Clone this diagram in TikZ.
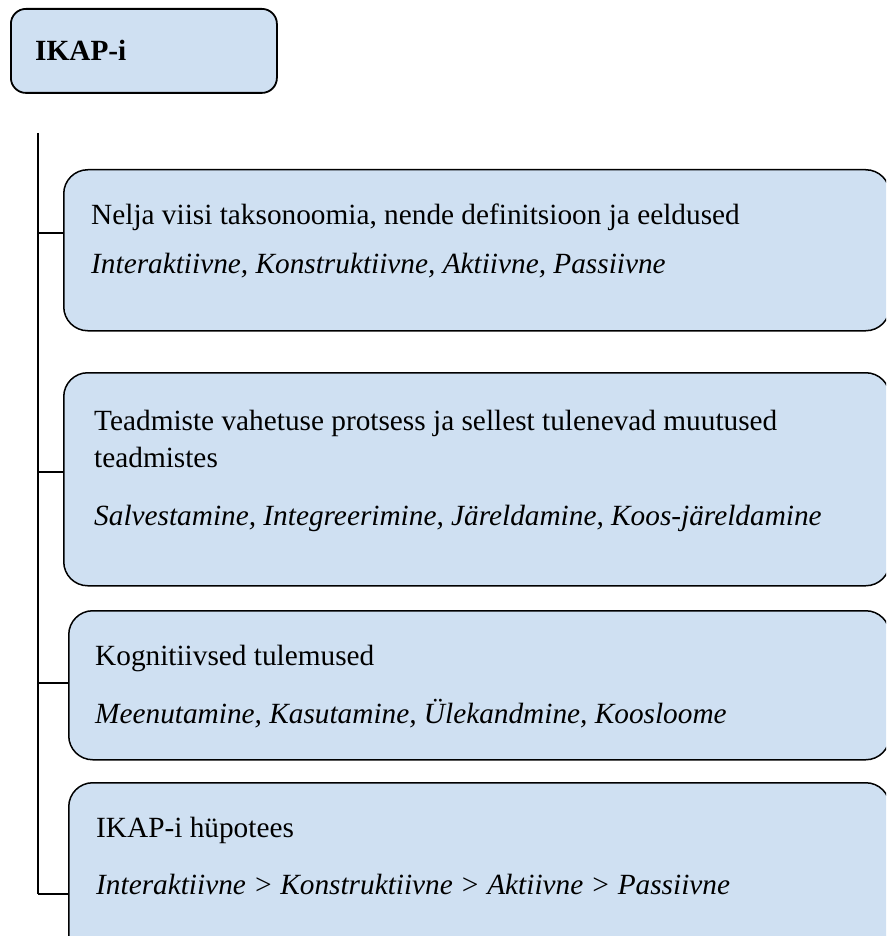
\documentclass[tikz,border=0pt]{standalone}
\usepackage{fontspec}
\setmainfont{Liberation Serif}
\definecolor{boxfill}{RGB}{207,224,242}
\begin{document}
\begin{tikzpicture}[x=1pt,y=-1pt,
  box/.style={draw=black, line width=1.5pt, fill=boxfill, rounded corners=24pt, inner sep=0pt, anchor=north west},
  txt/.style={anchor=base west, inner sep=0pt, font=\fontsize{29.3}{37}\selectfont},
  itxt/.style={txt, font=\fontsize{29.3}{37}\selectfont\itshape},
  conn/.style={line width=1.4pt}]
\useasboundingbox (0,0) rectangle (886,936);
\clip (0,0) rectangle (886,936);
% top box
\node[box, rounded corners=15pt, line width=1.8pt, minimum width=266pt, minimum height=84pt] (top) at (10,8) {};
\node[txt, font=\fontsize{29.3}{37}\selectfont\bfseries] (toptxt) at (35,61) {IKAP-i};
% boxes
\node[box, minimum width=826pt, minimum height=161pt] (b1) at (63,169) {};
\node[box, minimum width=826pt, minimum height=213pt] (b2) at (63,372) {};
\node[box, minimum width=821pt, minimum height=149pt] (b3) at (68,610) {};
\node[box, minimum width=821pt, minimum height=180pt] (b4) at (68,782) {};
% texts
\node[txt] (t1a) at (91,224) {Nelja viisi taksonoomia, nende definitsioon ja eeldused};
\node[itxt] (t1b) at (91,273) {Interaktiivne, Konstruktiivne, Aktiivne, Passiivne};
\node[txt] (t2a) at (94,430) {Teadmiste vahetuse protsess ja sellest tulenevad muutused};
\node[txt] (t2b) at (94,467) {teadmistes};
\node[itxt] (t2c) at (94,525) {Salvestamine, Integreerimine, Järeldamine, Koos-järeldamine};
\node[txt] (t3a) at (95,665) {Kognitiivsed tulemused};
\node[itxt] (t3b) at (95,723) {Meenutamine, Kasutamine, Ülekandmine, Koosloome};
\node[txt] (t4a) at (96,837) {IKAP-i hüpotees};
\node[itxt] (t4b) at (96,894) {Interaktiivne > Konstruktiivne > Aktiivne > Passiivne};
% spine
\coordinate (s0) at (38,133);
\coordinate (s1) at (38,233);
\coordinate (s2) at (38,472);
\coordinate (s3) at (38,683);
\coordinate (s4) at (38,894);
\draw[conn] (s0) -- (s4);
\draw[conn] (s1) -- (s1 -| b1.west);
\draw[conn] (s2) -- (s2 -| b2.west);
\draw[conn] (s3) -- (s3 -| b3.west);
\draw[conn] (s4) -- (s4 -| b4.west);
\end{tikzpicture}
\end{document}
